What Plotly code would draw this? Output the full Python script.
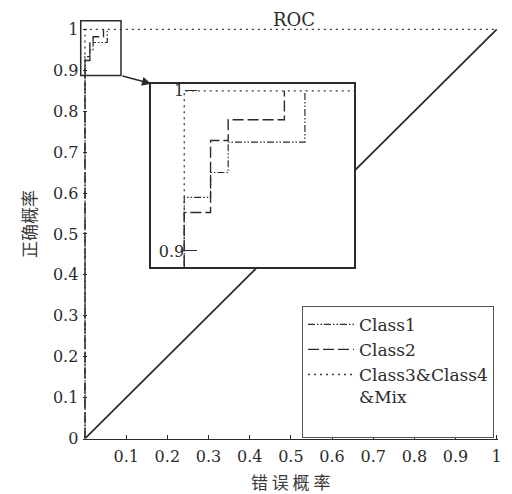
import plotly.graph_objects as go

# ROC curves (false positive rate, true positive rate) as step points
class1_fpr = [0.0, 0.0, 0.0118, 0.0197, 0.0541]
class1_tpr = [0.0, 0.9335, 0.949, 0.968, 1.0]

class2_fpr = [0.0, 0.0, 0.0118, 0.0197, 0.0449]
class2_tpr = [0.0, 0.924, 0.969, 0.982, 1.0]

class3_fpr = [0.0, 0.0, 1.0]
class3_tpr = [0.0, 1.0, 1.0]

chance_fpr = [0.0, 1.0]
chance_tpr = [0.0, 1.0]

series_names = ["Class1", "Class2", "Class3&Class4<br>&Mix<br> "]

x_tickvals = [0.1, 0.2, 0.3, 0.4, 0.5, 0.6, 0.7, 0.8, 0.9, 1.0]
x_ticktext = ["0.1", "0.2", "0.3", "0.4", "0.5", "0.6", "0.7", "0.8", "0.9", "1"]
y_tickvals = [0.0, 0.1, 0.2, 0.3, 0.4, 0.5, 0.6, 0.7, 0.8, 0.9, 1.0]
y_ticktext = ["0", "0.1", "0.2", "0.3", "0.4", "0.5", "0.6", "0.7", "0.8", "0.9", "1"]

inset_tickvals = [0.9, 1.0]
inset_ticktext = ["0.9", "1"]

# zoom window marked on the main axes
zoom_box_x = [-0.0104, 0.0874]
zoom_box_y = [0.887, 1.021]

W, H = 512, 494
INK = "#2b2b2b"
SERIF = "DejaVu Serif"
CJK = "Noto Sans CJK SC"

# main axes geometry (pixels)
X0_PX, X_SCALE = 85.0, 411.7
Y0_PX, Y_SCALE = 438.3, 410.8
X_RANGE = [-0.004, 1.004]
Y_RANGE = [0.0, 1.03]

main_xdom = [(X0_PX + X_RANGE[0] * X_SCALE) / W, (X0_PX + X_RANGE[1] * X_SCALE) / W]
main_ydom = [1 - (Y0_PX - Y_RANGE[0] * Y_SCALE) / H, 1 - (Y0_PX - Y_RANGE[1] * Y_SCALE) / H]

# inset axes geometry (pixels) and ranges
INSET_L, INSET_R, INSET_T, INSET_B = 151.0, 354.0, 82.0, 266.0
INSET_XRANGE = [-0.0149, 0.0761]
INSET_YRANGE = [0.890, 1.0045]
inset_xdom = [INSET_L / W, INSET_R / W]
inset_ydom = [1 - INSET_B / H, 1 - INSET_T / H]


def to_xdomain(v):
    return (v - X_RANGE[0]) / (X_RANGE[1] - X_RANGE[0])


def to_ydomain(v):
    return (v - Y_RANGE[0]) / (Y_RANGE[1] - Y_RANGE[0])


def paper_to_main_x(p):
    return X_RANGE[0] + (p - main_xdom[0]) / (main_xdom[1] - main_xdom[0]) * (X_RANGE[1] - X_RANGE[0])


def paper_to_main_y(p):
    return Y_RANGE[0] + (p - main_ydom[0]) / (main_ydom[1] - main_ydom[0]) * (Y_RANGE[1] - Y_RANGE[0])


styles = [
    dict(color=INK, width=1.2, dash="7px,2px,1.5px,2px,1.5px,2px"),
    dict(color=INK, width=1.4, dash="11px,4px"),
    dict(color="#3a3a3a", width=1.3, dash="2px,4px"),
]
curves = [(class1_fpr, class1_tpr), (class2_fpr, class2_tpr), (class3_fpr, class3_tpr)]

fig = go.Figure()

fig.add_trace(go.Scatter(x=chance_fpr, y=chance_tpr, mode="lines",
                         line=dict(color=INK, width=1.8), showlegend=False,
                         hoverinfo="skip", xaxis="x", yaxis="y"))

for name, (fx, ty), st in zip(series_names, curves, styles):
    fig.add_trace(go.Scatter(x=fx, y=ty, mode="lines", name=name, line=st,
                             line_shape="hv", xaxis="x", yaxis="y"))

for (fx, ty), st in zip(curves, styles):
    fig.add_trace(go.Scatter(x=fx, y=ty, mode="lines", line=st, line_shape="hv",
                             showlegend=False, xaxis="x2", yaxis="y2"))

# carrier for the inset's tick axis at fpr = 0
fig.add_trace(go.Scatter(x=[None], y=[None], mode="lines", showlegend=False,
                         hoverinfo="skip", xaxis="x2", yaxis="y3"))

inset_axis_pos = (INSET_L + (0 - INSET_XRANGE[0]) / (INSET_XRANGE[1] - INSET_XRANGE[0])
                  * (INSET_R - INSET_L)) / W

tick_font = dict(family=SERIF, size=16, color=INK)

fig.update_layout(
    width=W, height=H,
    margin=dict(l=0, r=0, t=0, b=0),
    paper_bgcolor="white", plot_bgcolor="white",
    xaxis=dict(domain=main_xdom, range=X_RANGE, showgrid=False, zeroline=False,
               showline=True, linecolor=INK, linewidth=1,
               ticks="inside", ticklen=4, tickcolor=INK,
               tickvals=x_tickvals, ticktext=x_ticktext, tickfont=tick_font,
               ticklabelstandoff=3, automargin=False),
    yaxis=dict(domain=main_ydom, range=Y_RANGE, showgrid=False, zeroline=False,
               showline=False, ticks="inside", ticklen=4, tickcolor=INK,
               tickvals=y_tickvals, ticktext=y_ticktext, tickfont=tick_font,
               ticklabelstandoff=4, automargin=False),
    xaxis2=dict(domain=inset_xdom, range=INSET_XRANGE, anchor="y2",
                showgrid=False, zeroline=False, showline=True, mirror=True,
                linecolor=INK, linewidth=1.5, ticks="", showticklabels=False),
    yaxis2=dict(domain=inset_ydom, range=INSET_YRANGE, anchor="x2",
                showgrid=False, zeroline=False, showline=True, mirror=True,
                linecolor=INK, linewidth=1.5, ticks="", showticklabels=False),
    yaxis3=dict(overlaying="y2", range=INSET_YRANGE, anchor="free",
                position=inset_axis_pos, side="left", showgrid=False,
                zeroline=False, showline=False, ticks="inside", ticklen=12,
                tickcolor=INK, tickvals=inset_tickvals, ticktext=inset_ticktext,
                tickfont=tick_font, ticklabelstandoff=0),
    legend=dict(x=302 / W, y=1 - 305 / H, xanchor="left", yanchor="top",
                bgcolor="white", bordercolor="#555", borderwidth=1, valign="top",
                font=dict(family=SERIF, size=17, color=INK), itemwidth=46),
    showlegend=True,
)

# zoom window on the main axes
fig.add_shape(type="rect", xref="x domain", yref="y domain",
              x0=to_xdomain(zoom_box_x[0]), x1=to_xdomain(zoom_box_x[1]),
              y0=to_ydomain(zoom_box_y[0]), y1=to_ydomain(zoom_box_y[1]),
              line=dict(color=INK, width=1.5))

# arrow from the zoom window to the inset
fig.add_annotation(x=paper_to_main_x(inset_xdom[0]), y=paper_to_main_y(inset_ydom[1]),
                   xref="x", yref="y", ax=zoom_box_x[1], ay=zoom_box_y[0],
                   axref="x", ayref="y", showarrow=True, arrowhead=2,
                   arrowsize=1.2, arrowwidth=1.5, arrowcolor=INK, text="")

fig.add_annotation(text="ROC", x=294 / W, y=1 - 17.5 / H, xref="paper", yref="paper",
                   xanchor="center", yanchor="middle", showarrow=False,
                   font=dict(family=SERIF, size=18, color=INK))
fig.add_annotation(text="错 误 概 率", x=290 / W, y=1 - 481 / H, xref="paper", yref="paper",
                   xanchor="center", yanchor="middle", showarrow=False,
                   font=dict(family=CJK, size=17, color="#3a3a3a"))
fig.add_annotation(text="正确概率", x=28 / W, y=1 - 223 / H, xref="paper", yref="paper",
                   xanchor="center", yanchor="middle", showarrow=False, textangle=-90,
                   font=dict(family=CJK, size=17, color="#3a3a3a"))

fig.write_html("out.html")
